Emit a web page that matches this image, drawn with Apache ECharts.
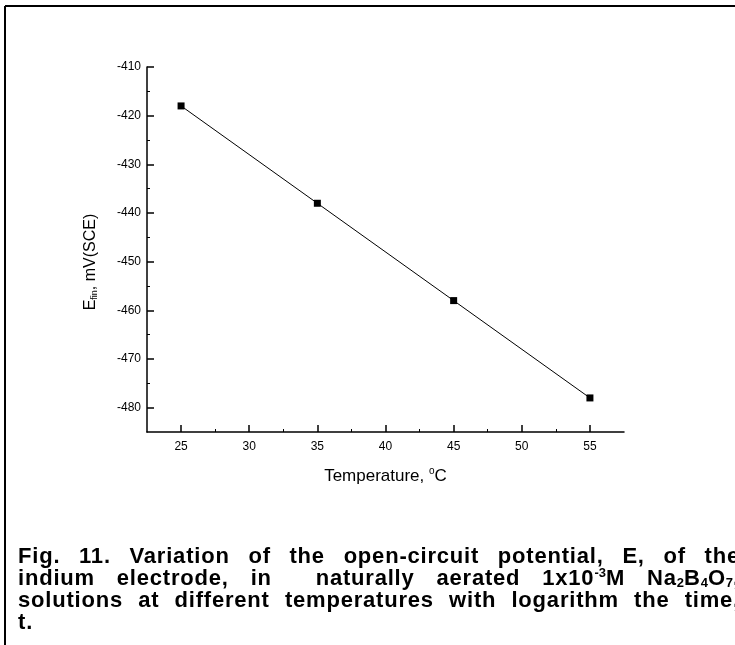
<!DOCTYPE html>
<html>
<head>
<meta charset="utf-8">
<script src="https://cdn.jsdelivr.net/npm/echarts@6/dist/echarts.min.js"></script>
<style>
  html, body { margin: 0; padding: 0; background: #fff; overflow: hidden; }
  #wrap { position: relative; width: 735px; height: 645px; overflow: hidden; }
  #chart { position: absolute; left: 0; top: 0; width: 735px; height: 645px; }
  #caption {
    position: absolute; left: 18px; top: 545px; width: 722px;
    font-family: "Liberation Sans", Arial, sans-serif; font-weight: bold;
    font-size: 22px; line-height: 22px; letter-spacing: 0.8px; color: #000;
  }
  #caption .ln { text-align: justify; text-align-last: justify; white-space: nowrap; }
  #caption .last { text-align-last: left; }
  #caption sup, #caption sub { font-size: 13px; line-height: 0; letter-spacing: 0; }
  #caption sub { vertical-align: -2px; }
  #caption sup { vertical-align: 8px; }
</style>
</head>
<body>
<div id="wrap">
  <div id="chart"></div>
  <div id="caption">
    <div class="ln">Fig. 11. Variation of the open-circuit potential, E, of the</div>
    <div class="ln">indium electrode, in &nbsp;naturally aerated 1x10<sup>-3</sup>M Na<sub>2</sub>B<sub>4</sub>O<sub>7</sub>,</div>
    <div class="ln">solutions at different temperatures with logarithm the time,</div>
    <div class="ln last">t.</div>
  </div>
</div>
<script>
// measured points
const temps = [25, 35, 45, 55];
const potentials = [-418, -438, -458, -478];

// tick labels
const xTicks = [25, 30, 35, 40, 45, 50, 55];
const xMinor = [27.5, 32.5, 37.5, 42.5, 47.5, 52.5];
const yTicks = [-480, -470, -460, -450, -440, -430, -420, -410];
const yMinor = [-475, -465, -455, -445, -435, -425, -415];

const font = '"Liberation Sans", Arial, sans-serif';

const chart = echarts.init(document.getElementById("chart"));

const baseX = {
  type: "value",
  min: 22.5,
  max: 57.5,
  position: "bottom",
  splitLine: { show: false },
};
const baseY = {
  type: "value",
  min: -485,
  max: -410,
  position: "left",
  splitLine: { show: false },
};

const option = {
  animation: false,
  backgroundColor: "#fff",
  grid: { left: 147, right: 111, top: 67, bottom: 213 },
  xAxis: [
    {
      ...baseX,
      axisLine: { lineStyle: { color: "#000", width: 1.5 } },
      axisTick: { inside: true, length: 7, lineStyle: { color: "#000", width: 1.5 }, customValues: xTicks },
      axisLabel: { color: "#000", fontFamily: font, fontSize: 12, margin: 9, customValues: xTicks },
      name: "{n|Temperature, }{sup|o}{n|C}",
      nameLocation: "middle",
      nameGap: 34,
      nameTextStyle: {
        rich: {
          n: { fontFamily: font, fontSize: 17, color: "#000" },
          sup: { fontFamily: font, fontSize: 10, color: "#000", padding: [0, 0, 10, 0] },
        },
      },
    },
    {
      ...baseX,
      axisLine: { show: false },
      axisTick: { inside: true, length: 3, lineStyle: { color: "#000", width: 1 }, customValues: xMinor },
      axisLabel: { show: false },
    },
  ],
  yAxis: [
    {
      ...baseY,
      axisLine: { show: true, lineStyle: { color: "#000", width: 1.5 } },
      axisTick: { show: true, inside: true, length: 7, lineStyle: { color: "#000", width: 1.5 }, customValues: yTicks },
      axisLabel: { color: "#000", fontFamily: font, fontSize: 12, margin: 6, customValues: yTicks },
      name: "{n|E}{sub|fin}{n|, mV(SCE)}",
      nameLocation: "middle",
      nameGap: 48,
      nameRotate: 90,
      nameTextStyle: {
        padding: [0, 25, 0, 0],
        rich: {
          n: { fontFamily: font, fontSize: 16, color: "#000" },
          sub: { fontFamily: font, fontSize: 9, color: "#000", padding: [8, 0, 0, 0] },
        },
      },
    },
    {
      ...baseY,
      axisLine: { show: false },
      axisTick: { show: true, inside: true, length: 3, lineStyle: { color: "#000", width: 1 }, customValues: yMinor },
      axisLabel: { show: false },
    },
  ],
  graphic: [
    { type: "line", shape: { x1: 5, y1: 6, x2: 735, y2: 6 }, style: { stroke: "#000", lineWidth: 2 } },
    { type: "line", shape: { x1: 5, y1: 6, x2: 5, y2: 645 }, style: { stroke: "#000", lineWidth: 2 } },
  ],
  series: [
    {
      type: "line",
      data: temps.map((t, i) => [t, potentials[i]]),
      symbol: "rect",
      symbolSize: 7,
      itemStyle: { color: "#000" },
      lineStyle: { color: "#000", width: 1 },
    },
  ],
};

chart.setOption(option);
</script>
</body>
</html>
